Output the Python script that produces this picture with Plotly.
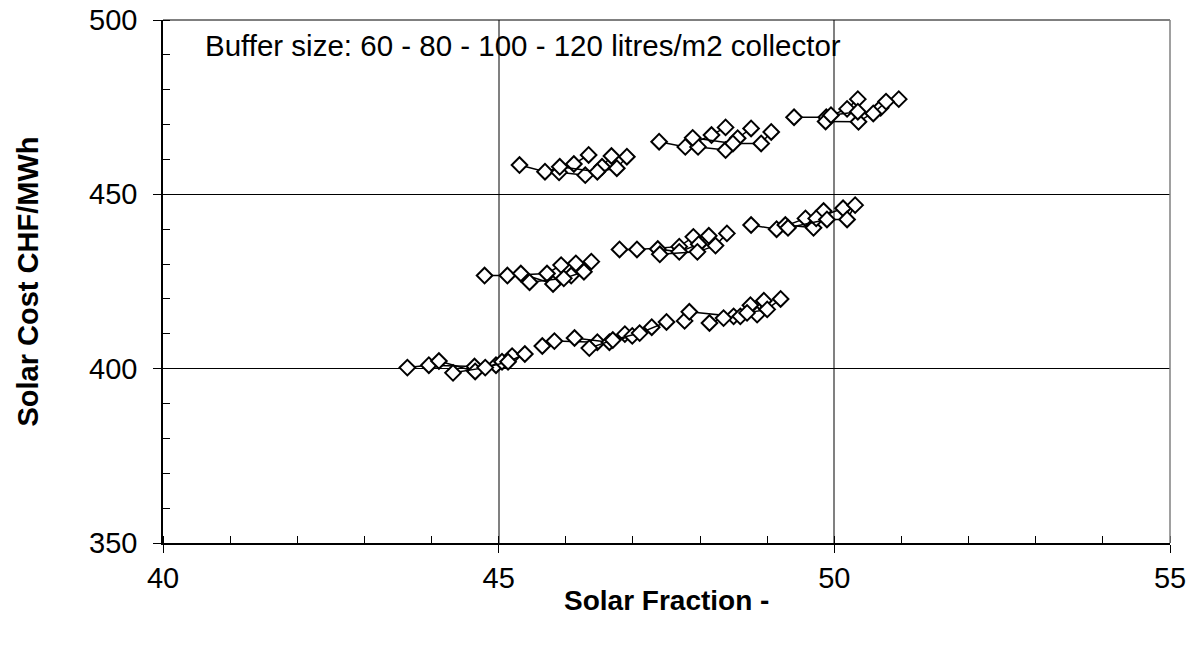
import plotly.graph_objects as go

# Each cluster: three curves (A, B, C), each with 4 points (buffer 60-80-100-120 l/m2)
# --- top row (highest cost)
top1_A_x = [45.31, 45.69, 46.12, 46.34]; top1_A_y = [458.4, 456.5, 458.7, 461.3]
top1_B_x = [45.90, 46.29, 46.54, 46.68]; top1_B_y = [456.3, 455.5, 457.9, 461.0]
top1_C_x = [45.91, 46.47, 46.76, 46.91]; top1_C_y = [457.9, 456.5, 457.5, 460.8]

top2_A_x = [47.39, 47.78, 48.17, 48.38]; top2_A_y = [465.1, 463.6, 467.0, 469.2]
top2_B_x = [47.97, 48.38, 48.56, 48.76]; top2_B_y = [463.6, 462.7, 466.1, 468.9]
top2_C_x = [47.89, 48.49, 48.91, 49.06]; top2_C_y = [466.2, 464.6, 464.6, 467.9]

top3_A_x = [49.40, 49.88, 50.19, 50.35]; top3_A_y = [472.1, 472.1, 474.5, 477.3]
top3_B_x = [49.87, 50.36, 50.69, 50.96]; top3_B_y = [470.9, 470.8, 474.8, 477.3]
top3_C_x = [49.95, 50.35, 50.58, 50.77]; top3_C_y = [472.7, 473.7, 473.2, 476.6]

# --- middle row
mid1_A_x = [44.79, 45.13, 45.72, 45.93]; mid1_A_y = [426.7, 426.7, 427.3, 429.7]
mid1_B_x = [45.33, 45.81, 46.08, 46.15]; mid1_B_y = [427.3, 424.3, 426.7, 430.2]
mid1_C_x = [45.46, 45.97, 46.27, 46.38]; mid1_C_y = [424.8, 425.9, 427.8, 430.7]

mid2_A_x = [46.80, 47.06, 47.69, 47.90]; mid2_A_y = [434.2, 434.2, 435.0, 437.8]
mid2_B_x = [47.37, 47.69, 47.98, 48.13]; mid2_B_y = [434.3, 433.5, 435.7, 438.1]
mid2_C_x = [47.40, 47.96, 48.23, 48.40]; mid2_C_y = [432.8, 433.5, 435.3, 438.8]

mid3_A_x = [48.76, 49.14, 49.57, 49.84]; mid3_A_y = [441.2, 440.0, 443.1, 445.2]
mid3_B_x = [49.27, 49.69, 49.73, 50.13]; mid3_B_y = [441.2, 440.4, 443.1, 446.0]
mid3_C_x = [49.31, 49.89, 50.19, 50.31]; mid3_C_y = [440.4, 442.8, 442.8, 446.9]

# --- bottom row
bot1_A_x = [43.64, 43.96, 44.64, 44.96]; bot1_A_y = [400.3, 401.0, 400.6, 401.0]
bot1_B_x = [44.11, 44.65, 45.05, 45.20]; bot1_B_y = [402.2, 399.2, 402.0, 403.6]
bot1_C_x = [44.32, 44.80, 45.14, 45.39]; bot1_C_y = [398.8, 400.3, 402.0, 404.2]

bot2_A_x = [45.65, 45.83, 46.47, 46.88]; bot2_A_y = [406.5, 407.9, 407.6, 409.9]
bot2_B_x = [46.13, 46.65, 46.99, 47.28]; bot2_B_y = [408.8, 407.6, 409.4, 411.9]
bot2_C_x = [46.35, 46.70, 47.10, 47.50]; bot2_C_y = [405.9, 408.2, 410.2, 413.4]

bot3_A_x = [47.77, 47.84, 48.50, 48.75]; bot3_A_y = [413.7, 416.3, 415.0, 418.2]
bot3_B_x = [48.14, 48.35, 48.85, 48.95]; bot3_B_y = [413.1, 414.5, 415.5, 419.5]
bot3_C_x = [48.60, 48.70, 49.00, 49.20]; bot3_C_y = [415.0, 416.0, 417.0, 420.0]

series = [
    (top1_A_x, top1_A_y), (top1_B_x, top1_B_y), (top1_C_x, top1_C_y),
    (top2_A_x, top2_A_y), (top2_B_x, top2_B_y), (top2_C_x, top2_C_y),
    (top3_A_x, top3_A_y), (top3_B_x, top3_B_y), (top3_C_x, top3_C_y),
    (mid1_A_x, mid1_A_y), (mid1_B_x, mid1_B_y), (mid1_C_x, mid1_C_y),
    (mid2_A_x, mid2_A_y), (mid2_B_x, mid2_B_y), (mid2_C_x, mid2_C_y),
    (mid3_A_x, mid3_A_y), (mid3_B_x, mid3_B_y), (mid3_C_x, mid3_C_y),
    (bot1_A_x, bot1_A_y), (bot1_B_x, bot1_B_y), (bot1_C_x, bot1_C_y),
    (bot2_A_x, bot2_A_y), (bot2_B_x, bot2_B_y), (bot2_C_x, bot2_C_y),
    (bot3_A_x, bot3_A_y), (bot3_B_x, bot3_B_y), (bot3_C_x, bot3_C_y),
]

x_ticks = [40, 45, 50, 55]
y_ticks = [350, 400, 450, 500]
x_title = "Solar Fraction -"
y_title = "Solar Cost CHF/MWh"
note = "Buffer size: 60 - 80 - 100 - 120 litres/m2 collector"

FONT = "Liberation Sans, Arial, sans-serif"
TICK_SIZE = 29
TITLE_SIZE = 28

fig = go.Figure()
for xs, ys in series:
    fig.add_trace(go.Scatter(
        x=xs, y=ys, mode="lines+markers",
        line=dict(color="black", width=1.5),
        marker=dict(symbol="diamond", size=12, color="white",
                    line=dict(color="black", width=2)),
        showlegend=False, hoverinfo="x+y",
    ))

# note inside the plot
fig.add_annotation(
    text=note, xref="paper", yref="paper", x=0, y=1,
    xshift=40, yshift=-25,
    xanchor="left", yanchor="middle", showarrow=False,
    font=dict(family=FONT, size=29.5, color="black"),
)
# axis titles
fig.add_annotation(
    text="<b>" + x_title + "</b>", xref="paper", yref="paper", x=0.5, y=0,
    yshift=-57, xanchor="center", yanchor="middle", showarrow=False,
    font=dict(family=FONT, size=TITLE_SIZE, color="black"),
)
fig.add_annotation(
    text="<b>" + y_title + "</b>", xref="paper", yref="paper", x=0, y=0.5,
    xshift=-136, textangle=-90, xanchor="center", yanchor="middle", showarrow=False,
    font=dict(family=FONT, size=29, color="black"),
)
# frame: top line black (500 gridline), right line grey (55 gridline)
fig.add_shape(type="line", xref="paper", yref="paper", x0=0, x1=1, y0=1, y1=1,
              line=dict(color="black", width=1))
fig.add_shape(type="line", xref="paper", yref="paper", x0=1, x1=1, y0=0, y1=1,
              line=dict(color="#808080", width=1.5))

# The page body has an 8px margin; compensate so the plot lands where the reference has it
fig.update_layout(
    width=1186, height=637,
    margin=dict(l=155, r=24, t=12, b=102),
    paper_bgcolor="white", plot_bgcolor="white",
    font=dict(family=FONT, color="black"),
)
fig.update_xaxes(
    range=[40, 55], tickvals=x_ticks, ticktext=[str(v) for v in x_ticks],
    showgrid=True, gridcolor="#808080", gridwidth=1.5,
    showline=True, linecolor="black", linewidth=1.5,
    ticks="outside", ticklen=8, tickcolor="black", tickwidth=1,
    ticklabelstandoff=0, ticklabeloverflow="allow",
    minor=dict(dtick=1, ticks="inside", ticklen=7, tickcolor="black", showgrid=False),
    zeroline=False, automargin=False,
    tickfont=dict(family=FONT, size=TICK_SIZE, color="black"),
)
fig.update_yaxes(
    range=[350, 500], tickvals=y_ticks, ticktext=[str(v) for v in y_ticks],
    showgrid=True, gridcolor="black", gridwidth=1,
    showline=True, linecolor="black", linewidth=1.5,
    ticks="outside", ticklen=8, tickcolor="black", tickwidth=1,
    ticklabelstandoff=10, ticklabeloverflow="allow",
    minor=dict(dtick=10, ticks="inside", ticklen=7, tickcolor="black", showgrid=False),
    zeroline=False, automargin=False,
    tickfont=dict(family=FONT, size=TICK_SIZE, color="black"),
)

fig.write_html("out.html")
